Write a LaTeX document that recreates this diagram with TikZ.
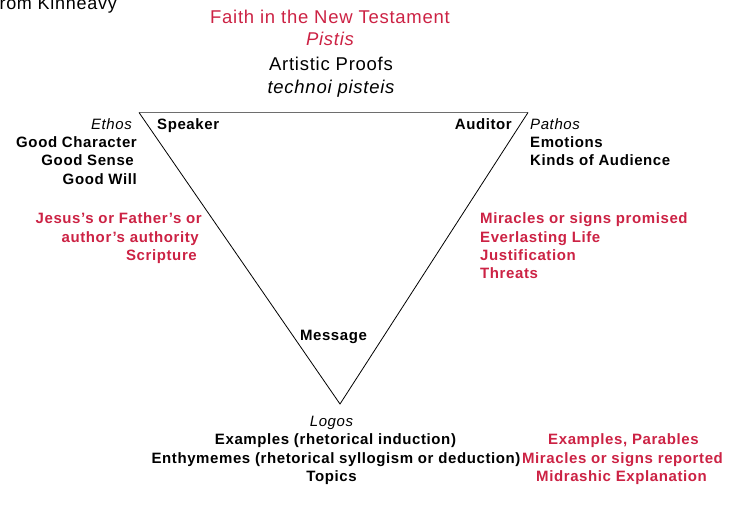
\documentclass[tikz,border=0pt]{standalone}
\usepackage{fontspec}
\setmainfont{Liberation Sans}[LetterSpace=4]
\definecolor{fred}{RGB}{204,34,68}
\definecolor{topgray}{RGB}{110,110,110}
\tikzset{
  lab/.style={inner sep=0pt, font=\fontsize{15}{18}\selectfont\bfseries},
  ital/.style={inner sep=0pt, font=\fontsize{15}{18}\selectfont\itshape},
  big/.style={inner sep=0pt, font=\fontsize{18.5}{22}\selectfont},
  bigit/.style={inner sep=0pt, font=\fontsize{18.5}{22}\selectfont\itshape},
  redtxt/.style={text=fred},
  side/.style={draw=black, line width=0.8pt},
  topside/.style={draw=topgray, line width=1.4pt},
}
\begin{document}
\begin{tikzpicture}[x=1pt,y=-1pt]
\useasboundingbox (0,0) rectangle (733,517);
% triangle corners
\coordinate (tl) at (139,112.5);
\coordinate (tr) at (528,112.5);
\coordinate (bt) at (340,404);
\draw[topside] (tl) -- (tr);
\draw[side] (tl) -- (bt) -- (tr);

\begin{scope}[yshift=-3pt]
% header
\node[inner sep=0pt, font=\fontsize{18}{21}\selectfont, anchor=mid east] (src) at (117,4) {from Kinneavy};
\node[big, redtxt, anchor=mid] (faith) at (330,18) {Faith in the New Testament};
\node[bigit, redtxt, anchor=mid] (pistis) at (330,40) {Pistis};
\node[big, anchor=mid] (art) at (331,65) {Artistic Proofs};
\node[bigit, anchor=mid] (tech) at (331,88) {technoi pisteis};

% corners
\node[lab, anchor=mid west] (speaker) at (157,124) {Speaker};
\node[lab, anchor=mid east] (auditor) at (512,124) {Auditor};
\node[lab, anchor=mid] (message) at (333.5,335) {Message};

% ethos
\node[ital, anchor=mid east] (ethos) at (132,124) {Ethos};
\node[lab, anchor=mid east] (gc) at (137,142) {Good Character};
\node[lab, anchor=mid east] (gs) at (134,160) {Good Sense};
\node[lab, anchor=mid east] (gw) at (137,179) {Good Will};

\node[lab, redtxt, anchor=mid east] (jes) at (202,218) {Jesus's or Father's or};
\node[lab, redtxt, anchor=mid east] (auth) at (199,237) {author's authority};
\node[lab, redtxt, anchor=mid east] (scr) at (197,255) {Scripture};

% pathos
\node[ital, anchor=mid west] (pathos) at (530,124) {Pathos};
\node[lab, anchor=mid west] (emo) at (530,142) {Emotions};
\node[lab, anchor=mid west] (kinds) at (530,160) {Kinds of Audience};

\node[lab, redtxt, anchor=mid west] (mir) at (480,218) {Miracles or signs promised};
\node[lab, redtxt, anchor=mid west] (ever) at (480,237) {Everlasting Life};
\node[lab, redtxt, anchor=mid west] (just) at (480,255) {Justification};
\node[lab, redtxt, anchor=mid west] (thr) at (480,273) {Threats};

% logos
\node[ital, anchor=mid] (logos) at (331.5,421) {Logos};
\node[lab, anchor=mid] (ex) at (335.5,439) {Examples (rhetorical induction)};
\node[lab, anchor=mid] (enth) at (336,458) {Enthymemes (rhetorical syllogism or deduction)};
\node[lab, anchor=mid] (top) at (331.5,476) {Topics};

\node[lab, redtxt, anchor=mid] (exp) at (623.5,439) {Examples, Parables};
\node[lab, redtxt, anchor=mid] (mrep) at (622.5,458) {Miracles or signs reported};
\node[lab, redtxt, anchor=mid] (mid) at (621.5,476) {Midrashic Explanation};
\end{scope}
\end{tikzpicture}
\end{document}
